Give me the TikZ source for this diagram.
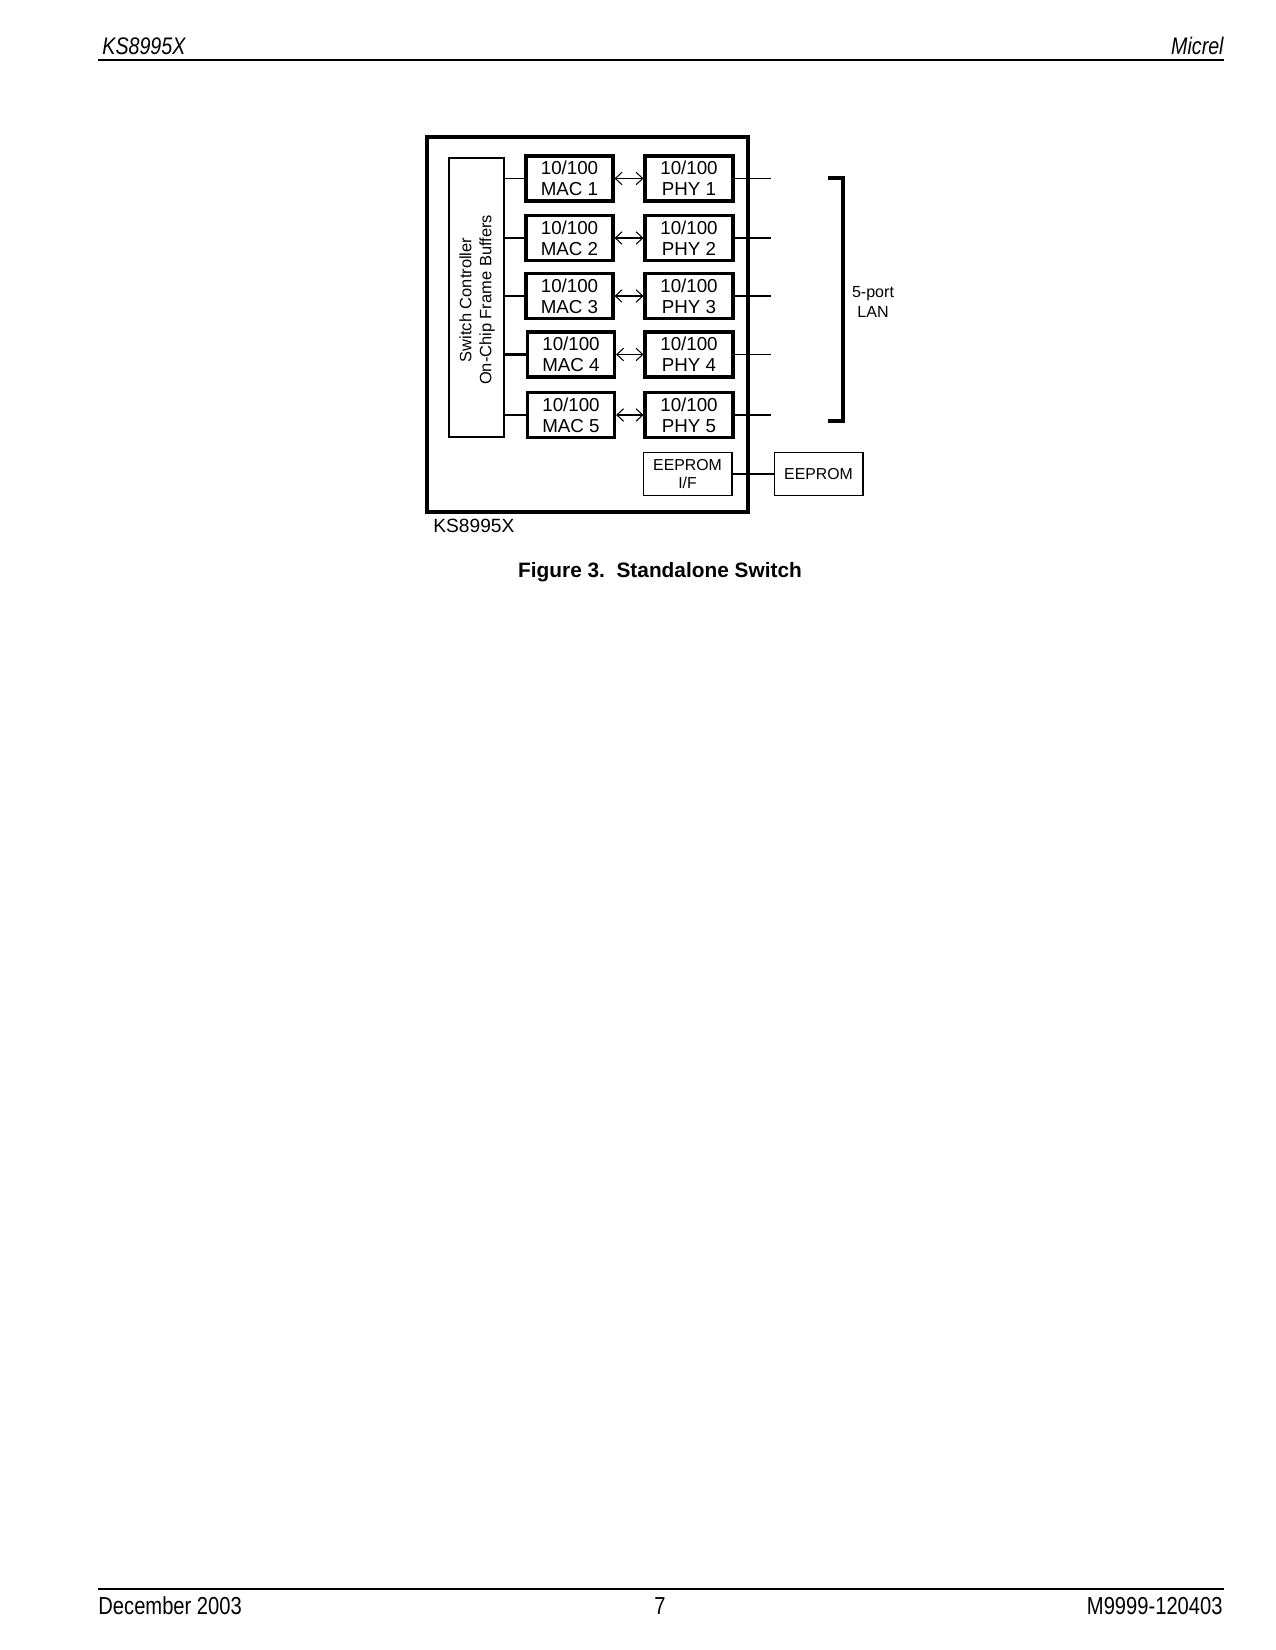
\documentclass[tikz,border=0pt]{standalone}
\usepackage{fontspec}
\setmainfont{Liberation Sans}
\newfontfamily\narrowfont[FakeStretch=0.82]{Liberation Sans}
\usetikzlibrary{arrows.meta}
\tikzset{
  thinln/.style={line width=0.5pt},
  blockbox/.style={draw, line width=1.5pt, inner sep=0pt, align=center,
    minimum height=21.6pt, font=\fontsize{9}{10}\selectfont},
  macbox/.style={blockbox, minimum width=41.8pt},
  phybox/.style={blockbox, minimum width=42.2pt},
  smallbox/.style={draw, line width=0.5pt, inner sep=0pt, align=center,
    minimum width=42.7pt, minimum height=20.2pt, font=\fontsize{7.6}{8.6}\selectfont},
  biarrow/.style={thinln, {Straight Barb[length=3.2pt,width=6pt]}-{Straight Barb[length=3.2pt,width=6pt]}},
  hdr/.style={font=\narrowfont\itshape\fontsize{11.5}{13}\selectfont, inner sep=0pt},
  ftr/.style={font=\narrowfont\fontsize{11.8}{13}\selectfont, inner sep=0pt}
}
\begin{document}
\begin{tikzpicture}[x=0.48pt, y=-0.48pt]
\path[use as bounding box] (0,0) rectangle (1275,1650);

% header and footer
\node[hdr, anchor=west] (hl) at (102,46) {KS8995X};
\node[hdr, anchor=east] (hr) at (1224,46) {Micrel};
\coordinate (hrl) at (98,60);
\coordinate (hrr) at (1224,60);
\draw[line width=1pt] (hrl) -- (hrr);
\coordinate (frl) at (98,1589);
\coordinate (frr) at (1224,1589);
\draw[line width=1pt] (frl) -- (frr);
\node[ftr, anchor=west] (fl) at (98,1606) {December 2003};
\node[ftr] (fc) at (660,1606) {7};
\node[ftr, anchor=east] (fr) at (1223,1606) {M9999-120403};

% outer chip box
\node[draw, line width=1.5pt, minimum width=154.1pt, minimum height=180pt, inner sep=0pt] (chip) at (587.5,324.5) {};
\node[anchor=west, inner sep=0pt, font=\fontsize{9.2}{10}\selectfont] (chiplabel) at (433,526) {KS8995X};

% switch controller
\node[draw, thinln, minimum width=26.4pt, minimum height=133.9pt, inner sep=0pt] (sw) at (476.5,297.5) {};
\node[rotate=90, align=center, inner sep=0pt, font=\fontsize{7.9}{9.6}\selectfont] (swlabel) at (477,300) {Switch Controller\\On-Chip Frame Buffers};

% MAC and PHY blocks
\node[macbox] (mac1) at (569.5,178.5) {10/100\\MAC 1};
\node[macbox] (mac2) at (569.5,238) {10/100\\MAC 2};
\node[macbox] (mac3) at (569.5,296) {10/100\\MAC 3};
\node[macbox] (mac4) at (571,354.5) {10/100\\MAC 4};
\node[macbox] (mac5) at (571,415) {10/100\\MAC 5};

\node[phybox] (phy1) at (689,178.5) {10/100\\PHY 1};
\node[phybox] (phy2) at (689,238) {10/100\\PHY 2};
\node[phybox] (phy3) at (689,296) {10/100\\PHY 3};
\node[phybox] (phy4) at (689,354.5) {10/100\\PHY 4};
\node[phybox] (phy5) at (689,415) {10/100\\PHY 5};

% switch to MAC lines
\draw[thinln] (sw.east |- mac1.west) -- (mac1.west);
\draw[thinln] (sw.east |- mac2.west) -- (mac2.west);
\draw[thinln] (sw.east |- mac3.west) -- (mac3.west);
\draw[line width=1pt] (sw.east |- mac4.west) -- (mac4.west);
\draw[thinln] (sw.east |- mac5.west) -- (mac5.west);

% MAC to PHY arrows
\draw[biarrow] (mac1.east) -- (phy1.west);
\draw[biarrow] (mac2.east) -- (phy2.west);
\draw[biarrow] (mac3.east) -- (phy3.west);
\draw[biarrow] (mac4.east) -- (phy4.west);
\draw[biarrow] (mac5.east) -- (phy5.west);

% PHY port lines
\coordinate (portx) at (771,0);
\draw[thinln] (phy1.east) -- (phy1.east -| portx);
\draw[line width=1pt] (phy2.east) -- (phy2.east -| portx);
\draw[thinln] (phy3.east) -- (phy3.east -| portx);
\draw[thinln] (phy4.east) -- (phy4.east -| portx);
\draw[thinln] (phy5.east) -- (phy5.east -| portx);

% bracket
\coordinate (bt) at (828,178);
\coordinate (btr) at (843,178);
\coordinate (bbr) at (843,421);
\coordinate (bb) at (828,421);
\draw[line width=1.5pt] (bt) -- (btr) -- (bbr) -- (bb);
\node[align=center, inner sep=0pt, font=\fontsize{7.7}{9.6}\selectfont] (lan) at (873,302) {5-port\\LAN};

% EEPROM
\node[smallbox] (eepif) at (687.5,474) {EEPROM\\I/F};
\node[smallbox] (eep) at (818.5,474) {EEPROM};
\draw[thinln] (eepif.east) -- (eep.west);

% caption
\node[font=\bfseries\fontsize{10}{12}\selectfont, inner sep=0pt] (caption) at (660,572) {Figure 3.\ \ Standalone Switch};
\end{tikzpicture}
\end{document}
